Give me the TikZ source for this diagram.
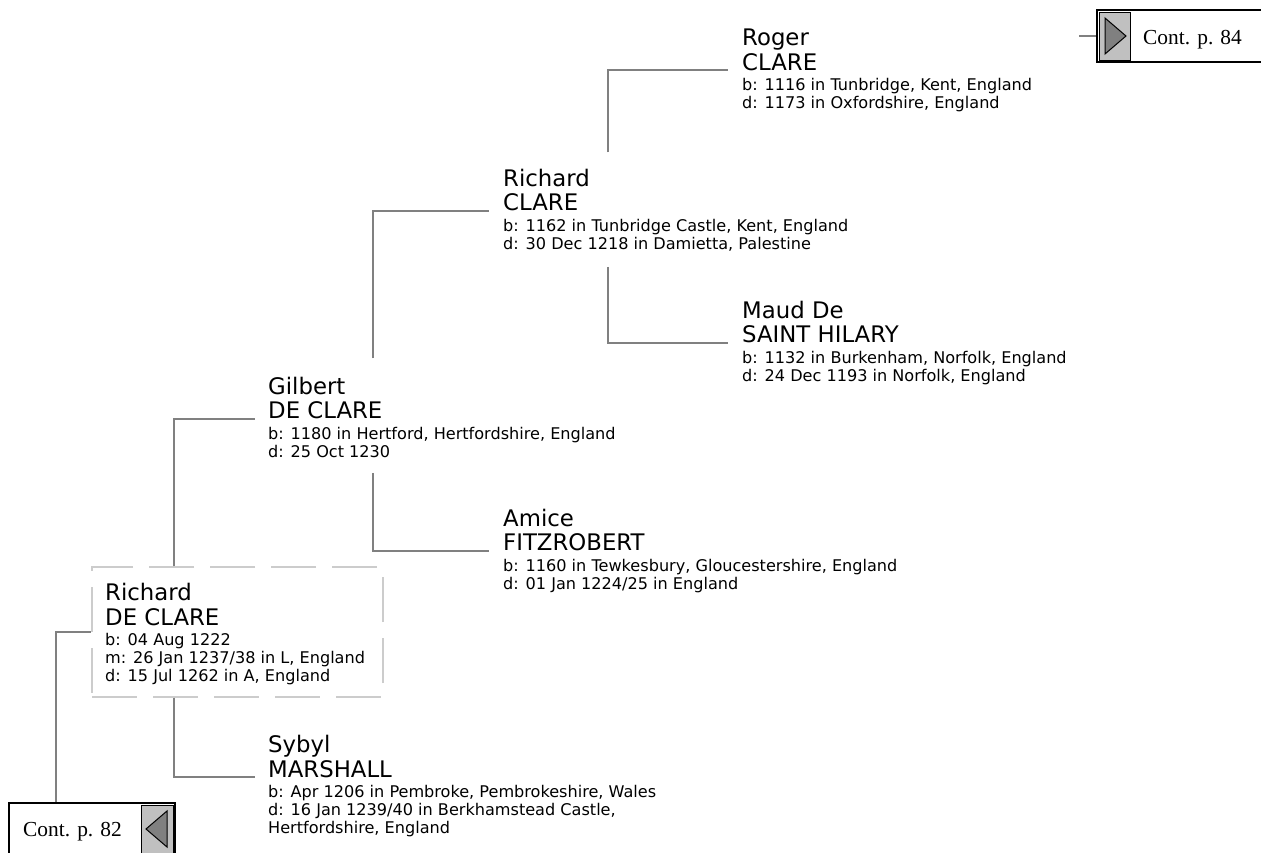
\documentclass[tikz,border=0pt]{standalone}
\usepackage{fontspec}
\setmainfont{DejaVu Sans}
\newfontfamily\contfont{Liberation Serif}

\definecolor{linkgray}{HTML}{808080}
\definecolor{dashgray}{HTML}{CCCCCC}
\definecolor{tabgray}{HTML}{C0C0C0}

\begin{document}
\begin{tikzpicture}[x=1pt, y=-1pt,
  given/.style={anchor=base west, inner sep=0pt, font=\fontsize{22.8}{24}\selectfont},
  sur/.style={given},
  info/.style={anchor=north west, inner sep=0pt, align=left,
    font=\fontsize{16.1}{18}\selectfont,
    execute at begin node=\strut, execute at end node=\strut},
  link/.style={draw=linkgray, line width=2pt},
  contbox/.style={draw=black, line width=2pt, minimum height=52pt, inner sep=0pt},
  conttext/.style={anchor=base west, inner sep=0pt, font=\contfont\fontsize{21.4}{24}\selectfont}]
  \useasboundingbox (0,0) rectangle (1261,852);

  % Richard DE CLARE, the person of this page
  \node[draw=dashgray, line width=1.3pt, dash pattern=on 45pt off 16pt,
        minimum width=291pt, minimum height=130pt, inner sep=0pt] (rdcbox) at (237.5,632) {};
  \node[given] (rdc-g) at (105,600.5) {Richard};
  \node[sur]   (rdc)   at (105,625)   {DE CLARE};
  \node[info]  (rdc-i) at (105,633.4) {b: 04 Aug 1222\\m: 26 Jan 1237/38 in L, England\\d: 15 Jul 1262 in A, England};

  % parents
  \node[given] (gilbert-g) at (268,394)   {Gilbert};
  \node[sur]   (gilbert)   at (268,418.5) {DE CLARE};
  \node[info]  (gilbert-i) at (268,426.9) {b: 1180 in Hertford, Hertfordshire, England\\d: 25 Oct 1230};

  \node[given] (sybyl-g) at (268,752.5) {Sybyl};
  \node[sur]   (sybyl)   at (268,777)   {MARSHALL};
  \node[info]  (sybyl-i) at (268,785.4) {b: Apr 1206 in Pembroke, Pembrokeshire, Wales\\d: 16 Jan 1239/40 in Berkhamstead Castle,\\Hertfordshire, England};

  % grandparents
  \node[given] (rclare-g) at (503,186)   {Richard};
  \node[sur]   (rclare)   at (503,210.5) {CLARE};
  \node[info]  (rclare-i) at (503,218.9) {b: 1162 in Tunbridge Castle, Kent, England\\d: 30 Dec 1218 in Damietta, Palestine};

  \node[given] (amice-g) at (503,526)   {Amice};
  \node[sur]   (amice)   at (503,550.5) {FITZROBERT};
  \node[info]  (amice-i) at (503,558.9) {b: 1160 in Tewkesbury, Gloucestershire, England\\d: 01 Jan 1224/25 in England};

  % great-grandparents
  \node[given] (roger-g) at (742,45)   {Roger};
  \node[sur]   (roger)   at (742,70) {CLARE};
  \node[info]  (roger-i) at (742,78.4) {b: 1116 in Tunbridge, Kent, England\\d: 1173 in Oxfordshire, England};

  \node[given] (maud-g) at (742,318)   {Maud De};
  \node[sur]   (maud)   at (742,342.5) {SAINT HILARY};
  \node[info]  (maud-i) at (742,350.9) {b: 1132 in Burkenham, Norfolk, England\\d: 24 Dec 1193 in Norfolk, England};

  % continuation tabs
  \node[contbox, minimum width=166pt] (cont82) at (92,829) {};
  \filldraw[fill=tabgray, draw=black, line width=1pt] (141,805) rectangle (173,853);
  \filldraw[fill=linkgray, draw=black, line width=1pt] (167,811) -- (146,829) -- (167,847) -- cycle;
  \node[conttext] (c82txt) at (23,836) {Cont. p. 82};

  \node[contbox, minimum width=180pt] (cont84) at (1187,36) {};
  \filldraw[fill=tabgray, draw=black, line width=1pt] (1099,12) rectangle (1130,60);
  \filldraw[fill=linkgray, draw=black, line width=1pt] (1105,18) -- (1126,36) -- (1105,54) -- cycle;
  \node[conttext] (c84txt) at (1143,44) {Cont. p. 84};
  \coordinate (c84in) at (1079,36);

  % lines
  \draw[link] ([xshift=48pt]cont82.north west) |- (rdcbox.west);
  \draw[link, shorten >=13pt] ([xshift=83pt]rdcbox.north west) |- (gilbert.base west);
  \draw[link, shorten >=13pt] ([xshift=83pt]rdcbox.south west) |- (sybyl.base west);
  \draw[link, shorten <=18pt, shorten >=14pt] ([xshift=105pt]gilbert-g.north west) |- (rclare.base west);
  \draw[link, shorten <=10pt, shorten >=14pt] ([xshift=105pt]gilbert-i.south west) |- (amice.base west);
  \draw[link, shorten <=16pt, shorten >=14pt] ([xshift=105pt]rclare-g.north west) |- (roger.base west);
  \draw[link, shorten <=12pt, shorten >=14pt] ([xshift=105pt]rclare-i.south west) |- (maud.base west);
  \draw[link] (c84in) -- (cont84.west);
\end{tikzpicture}
\end{document}
